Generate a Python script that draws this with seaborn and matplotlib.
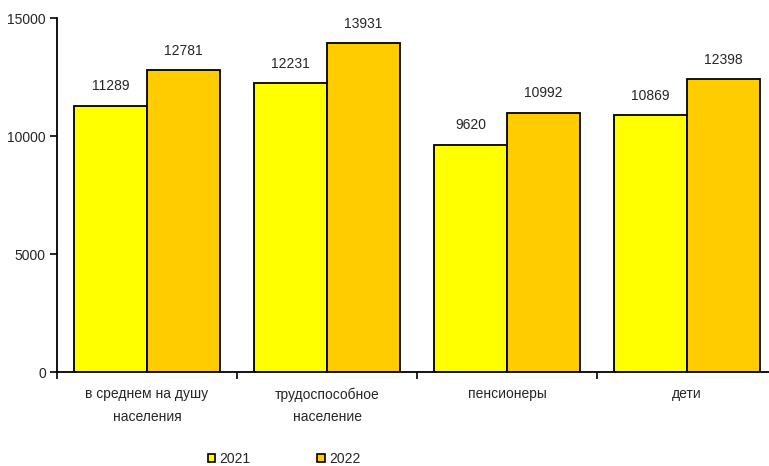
import matplotlib
matplotlib.use("Agg")
import matplotlib.pyplot as plt
from matplotlib.patches import Patch
import seaborn as sns
import pandas as pd
import numpy as np

categories = ["в среднем на душу\nнаселения", "трудоспособное\nнаселение", "пенсионеры", "дети"]
years = ["2021", "2022"]
values_2021 = [11289, 12231, 9620, 10869]
values_2022 = [12781, 13931, 10992, 12398]
colors = ["#FFFF00", "#FFCC00"]

df = pd.DataFrame({
    "cat": categories * 2,
    "year": [years[0]] * 4 + [years[1]] * 4,
    "val": values_2021 + values_2022,
})

sns.set_theme(style="white")
plt.rcParams["font.family"] = ["Liberation Sans", "DejaVu Sans"]

fig = plt.figure(figsize=(7.69, 4.66), dpi=100)
ax = fig.add_axes([57/769, 1 - 372/466, 712/769, (372 - 18)/466])

sns.barplot(data=df, x="cat", y="val", hue="year", palette=colors, width=0.81,
            edgecolor="black", linewidth=1.3, ax=ax, legend=False, saturation=1)

for c in ax.containers:
    ax.bar_label(c, labels=[f"{int(v)}" for v in c.datavalues], padding=9, fontsize=10)

ax.set_ylim(0, 15000)
ax.set_yticks([0, 5000, 10000, 15000])
ax.set_xlim(-0.5, -0.5 + 712/180)
ax.set_xticks([-0.5, 0.5, 1.5, 2.5])
ax.set_xticklabels([])
ax.set_xticks(range(4), minor=True)
ax.set_xticklabels(categories, minor=True, fontsize=10, linespacing=1.75)
ax.tick_params(axis="x", which="minor", length=0, pad=11)
ax.tick_params(axis="x", which="major", direction="out", length=5, width=1.2, color="black", bottom=True)
ax.tick_params(axis="y", direction="out", length=5, width=1.2, color="black", left=True, labelsize=10, pad=3)
ax.set_xlabel("")
ax.set_ylabel("")
for s in ["top", "right"]:
    ax.spines[s].set_visible(False)
for s in ["left", "bottom"]:
    ax.spines[s].set_color("black")
    ax.spines[s].set_linewidth(1.3)
ax.grid(False)

handles = [Patch(facecolor=colors[i], edgecolor="black", linewidth=1.2, label=years[i]) for i in range(2)]
fig.legend(handles=handles, loc="center", bbox_to_anchor=(284/769, 1 - 459/466), ncol=2, frameon=False,
           fontsize=10, handlelength=0.55, handleheight=0.55, handletextpad=0.3, columnspacing=4.8)

fig.savefig("out.png", dpi=100, facecolor="white")
